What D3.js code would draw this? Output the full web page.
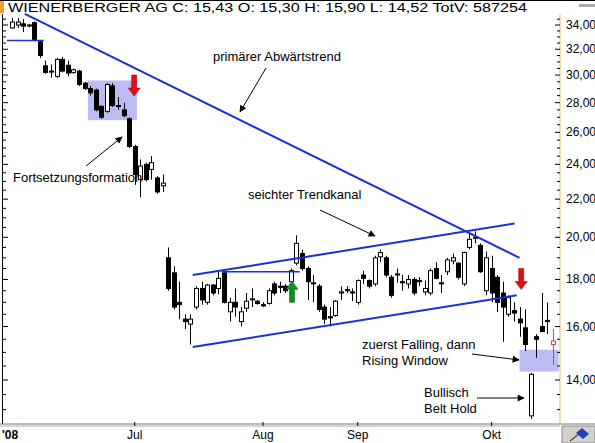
<!DOCTYPE html>
<html><head><meta charset="utf-8">
<script src="https://cdn.jsdelivr.net/npm/d3@7"></script>
<style>
body{margin:0;background:#fff;}
text{font-family:"Liberation Sans",Arial,sans-serif;fill:#000;}
</style></head>
<body><div id="chart"></div>
<script>
// OHLC, one row per trading day (June - mid October 2008)
const opens  = [33.75,34.0,34.1,34.0,34.2,32.6,30.7,30.3,29.9,31.2,30.75,30.2,30.3,29.4,29.0,28.9,27.75,27.4,29.2,27.8,27.5,26.9,25.1,23.1,24.0,23.7,23.2,22.75,
  19.0,18.3,17.0,16.3,16.1,16.8,17.6,17.0,17.75,17.6,18.3,16.6,17.0,16.2,16.75,17.1,17.05,16.9,16.95,17.8,17.7,17.7,17.9,18.75,19.2,18.5,17.85,17.7,16.8,16.4,16.45,17.4,
  17.5,17.45,17.0,18.2,17.95,17.8,19.05,19.0,18.1,18.2,17.9,17.8,18.0,17.9,17.45,17.4,18.5,17.85,18.35,18.85,18.75,17.8,19.5,19.95,19.6,17.5,18.5,18.1,17.4,16.5,
  16.65,16.3,15.95,12.8,15.6,16.0,16.25,15.3];
const highs  = [34.6,34.6,34.5,34.1,34.3,32.7,31.1,30.8,31.3,31.4,31.1,30.5,30.4,29.5,29.2,29.0,27.8,29.4,29.4,28.4,28.0,27.0,25.2,24.3,24.1,24.5,23.3,23.4,
  19.5,18.6,17.9,16.5,16.5,17.7,17.9,17.8,17.8,18.4,18.4,17.2,17.6,16.8,17.4,17.6,17.1,17.0,17.6,17.9,17.9,17.8,18.5,20.1,19.4,18.6,18.2,17.8,16.9,16.8,17.1,17.7,
  17.7,17.6,18.0,18.4,18.0,19.1,19.4,19.1,18.2,18.5,18.2,18.2,18.1,18.1,17.95,18.5,18.8,18.2,19.0,19.2,18.8,19.3,20.2,20.3,19.7,19.3,19.1,18.2,17.9,17.3,
  17.0,16.8,16.7,14.25,15.7,17.4,17.0,15.9];
const lows   = [33.7,33.75,33.4,33.8,32.7,31.3,30.1,29.8,29.8,30.2,29.9,30.1,29.2,28.9,28.5,27.4,26.9,27.3,27.7,27.5,27.0,25.0,22.8,22.1,23.0,23.1,22.3,22.4,
  17.5,16.7,16.3,15.9,15.3,16.7,16.9,16.9,17.3,17.35,16.95,16.2,16.4,16.0,16.6,16.8,16.9,16.8,16.9,17.3,17.4,17.4,17.6,18.65,18.4,17.1,17.0,16.6,16.1,16.0,16.4,17.1,
  17.4,17.05,16.9,17.8,17.6,17.7,18.8,18.1,17.2,17.85,17.5,17.6,17.3,17.7,17.3,17.3,18.0,17.4,18.2,18.7,18.0,17.7,19.4,19.7,18.3,17.3,17.0,16.6,15.4,16.4,
  16.2,15.6,15.05,12.7,14.8,15.8,15.7,14.52];
const closes = [34.25,34.25,33.9,33.95,32.8,31.5,30.2,30.25,31.2,30.3,30.15,30.4,29.3,29.0,28.7,27.5,27.0,29.3,27.8,27.75,27.1,25.1,23.4,23.9,23.1,24.1,22.4,22.9,
  17.6,16.8,16.9,16.2,16.3,17.6,17.1,17.75,17.4,18.05,17.0,17.0,16.8,16.6,17.05,17.15,16.95,16.85,17.5,17.4,17.65,17.5,18.4,19.7,18.5,17.9,17.8,16.7,16.3,16.35,17.05,17.45,
  17.55,17.4,17.95,18.05,17.7,19.0,19.25,18.2,17.3,18.25,17.85,18.0,17.4,17.95,17.6,18.4,18.05,17.8,18.9,19.0,18.1,19.25,19.9,20.0,18.35,19.0,17.4,17.0,16.8,17.2,
  16.55,16.15,15.3,14.2,15.5,15.8,16.2,15.43];

const priceTicks = [14,16,18,20,22,24,26,28,30,32,34];
const dateTickIdx = [22,45,62,86];
const dateLabels = ["Jul","Aug","Sep","Okt"];

// drawn trend lines: [idx, price] pairs
const trendLines = [
  [[2.3,34.95],[91.0,19.0]],   // primärer Abwärtstrend
  [[32.4,18.2],[90.1,20.7]],   // Kanal oben
  [[32.4,15.2],[90.5,17.3]],   // Kanal unten
  [[-0.9,32.7],[5.7,32.7]],
  [[37.6,18.35],[51.6,18.35]]
];
const boxes = [ {i0:13.6,i1:22.4,p0:29.6,p1:26.8}, {i0:91,i1:98,p0:15.1,p1:14.3} ];
const arrows = [ {i:21.9,p:30.0,dir:"down",color:"#e01010"}, {i:91.3,p:18.5,dir:"down",color:"#e01010"}, {i:50.2,p:17.0,dir:"up",color:"#109020"} ];
const notes = [
  {lines:["primärer Abwärtstrend"],x:213,y:61,from:[266,68],to:[240,112]},
  {lines:["Fortsetzungsformation"],x:13,y:182,from:[86,166],to:[122,137]},
  {lines:["seichter Trendkanal"],x:248,y:199,from:[320,210],to:[375,236]},
  {lines:["zuerst Falling, dann","Rising Window"],x:362,y:349,from:[472,354],to:[519,360]},
  {lines:["Bullisch","Belt Hold"],x:424,y:397,from:[477,398],to:[524,398]}
];

const W = 595, H = 443;
const svg = d3.select("#chart").append("svg").attr("width", W).attr("height", H);
const defs = svg.append("defs");
defs.append("marker").attr("id","ah").attr("viewBox","0 0 10 10").attr("refX",9).attr("refY",5)
  .attr("markerWidth",9).attr("markerHeight",7).attr("orient","auto-start-reverse")
  .append("path").attr("d","M0,0L10,5L0,10z").attr("fill","#000");

const x = d3.scaleLinear().domain([0, 97]).range([12, 553]);
const y = d3.scaleLog().domain([14, 34]).range([380, 25]);

// frame
svg.append("rect").attr("x",0).attr("y",0).attr("width",W).attr("height",H).attr("fill","#fff");
svg.append("line").attr("x1",0).attr("x2",W).attr("y1",0.5).attr("y2",0.5).attr("stroke","#000");
svg.append("rect").attr("x",0).attr("y",1).attr("width",4).attr("height",12).attr("fill","#f0a030");
svg.append("text").attr("x",8).attr("y",12).style("font-size","12px")
  .attr("textLength",519).attr("lengthAdjust","spacingAndGlyphs")
  .text("WIENERBERGER AG C: 15,43 O: 15,30 H: 15,90 L: 14,52 TotV: 587254");
svg.append("rect").attr("x",579).attr("y",4).attr("width",16).attr("height",3).attr("fill","#aaa");

// highlight boxes
svg.selectAll(".box").data(boxes).enter().append("rect")
  .attr("x", d => x(d.i0)).attr("y", d => y(d.p0))
  .attr("width", d => x(d.i1) - x(d.i0)).attr("height", d => y(d.p1) - y(d.p0))
  .attr("fill", "#bcbcf4");

// left axis
svg.append("line").attr("x1",2.5).attr("x2",2.5).attr("y1",14).attr("y2",424).attr("stroke","#000");
const minor = d3.range(13, 34.6, 0.5);
svg.selectAll(".lt").data(minor).enter().append("line")
  .attr("x1",2).attr("x2",d => d % 2 === 0 ? 8 : 6).attr("y1",d => y(d)).attr("y2",d => y(d)).attr("stroke","#000");

// right axis
const ax = 560;
svg.append("line").attr("x1",ax).attr("x2",ax).attr("y1",14).attr("y2",424).attr("stroke","#ece0b0").attr("stroke-width",2);
svg.selectAll(".rt").data(minor).enter().append("line")
  .attr("x1",d => d % 2 === 0 ? ax-5 : ax-3).attr("x2",ax).attr("y1",d => y(d)).attr("y2",d => y(d)).attr("stroke","#000");
svg.selectAll(".rl").data(priceTicks).enter().append("text")
  .attr("x",ax+6).attr("y",d => y(d)+4).style("font-size","12px")
  .text(d => d3.format(".2f")(d).replace(".", ","));

// bottom axis
svg.append("line").attr("x1",0).attr("x2",W).attr("y1",424).attr("y2",424).attr("stroke","#777");
svg.append("line").attr("x1",0).attr("x2",560).attr("y1",426).attr("y2",426).attr("stroke","#aaa");
svg.selectAll(".bt").data(dateTickIdx).enter().append("line")
  .attr("x1",d => x(d)).attr("x2",d => x(d)).attr("y1",422).attr("y2",426).attr("stroke","#000");
svg.selectAll(".bl").data(dateLabels).enter().append("text")
  .attr("x",(d,i) => x(dateTickIdx[i])).attr("y",439).style("font-size","12px").attr("text-anchor","middle").text(d => d);
svg.append("text").attr("x",2).attr("y",439).style("font-size","12px").attr("font-weight","bold").text("'08");
// corner button
svg.append("rect").attr("x",562).attr("y",426).attr("width",33).attr("height",17).attr("fill","#d4d0c8").attr("stroke","#888");
svg.append("path").attr("d","M570,441L584,430").attr("stroke","#000");
svg.append("path").attr("d","M576,433L582,428L589,434L583,439z").attr("fill","#2040c0");

// candles
const data = opens.map((o, i) => ({i, o, h: highs[i], l: lows[i], c: closes[i]}));
const last = data.length - 1;
const g = svg.append("g");
g.selectAll(".wick").data(data).enter().append("line")
  .attr("x1", d => Math.round(x(d.i)) + 0.5).attr("x2", d => Math.round(x(d.i)) + 0.5)
  .attr("y1", d => y(d.h)).attr("y2", d => y(d.l))
  .attr("stroke", d => d.i === last ? "#e04040" : "#000");
g.selectAll(".body").data(data).enter().append("rect")
  .attr("x", d => Math.round(x(d.i)) - 1.5).attr("width", 4)
  .attr("y", d => y(Math.max(d.o, d.c)))
  .attr("height", d => Math.max(1, y(Math.min(d.o, d.c)) - y(Math.max(d.o, d.c))))
  .attr("fill", d => d.c >= d.o ? "#fff" : "#000")
  .attr("stroke", d => d.i === last ? "#e04040" : "#000");

// trend lines
svg.selectAll(".tl").data(trendLines).enter().append("line")
  .attr("x1", d => x(d[0][0])).attr("y1", d => y(d[0][1]))
  .attr("x2", d => x(d[1][0])).attr("y2", d => y(d[1][1]))
  .attr("stroke", "#1830d8").attr("stroke-width", (d, i) => i < 3 ? 2 : 1.5);

// signal arrows
arrows.forEach(a => {
  const cx = x(a.i), cy = y(a.p);
  const s = a.dir === "down" ? 1 : -1;
  const pts = [[-2.5,0],[2.5,0],[2.5,13],[6,13],[0,21],[-6,13],[-2.5,13]]
    .map(p => [cx + p[0], cy + s * p[1]]);
  svg.append("polygon").attr("points", pts.map(p => p.join(",")).join(" "))
    .attr("fill", a.color).attr("stroke", d3.color(a.color).darker(0.8)).attr("stroke-width", 0.6);
});

// annotations
notes.forEach(n => {
  const t = svg.append("text").attr("x", n.x).attr("y", n.y).style("font-size", "13px");
  n.lines.forEach((l, k) => t.append("tspan").attr("x", n.x).attr("dy", k ? 16 : 0).text(l));
  svg.append("line").attr("x1", n.from[0]).attr("y1", n.from[1]).attr("x2", n.to[0]).attr("y2", n.to[1])
    .attr("stroke", "#000").attr("marker-end", "url(#ah)");
});
</script></body></html>
